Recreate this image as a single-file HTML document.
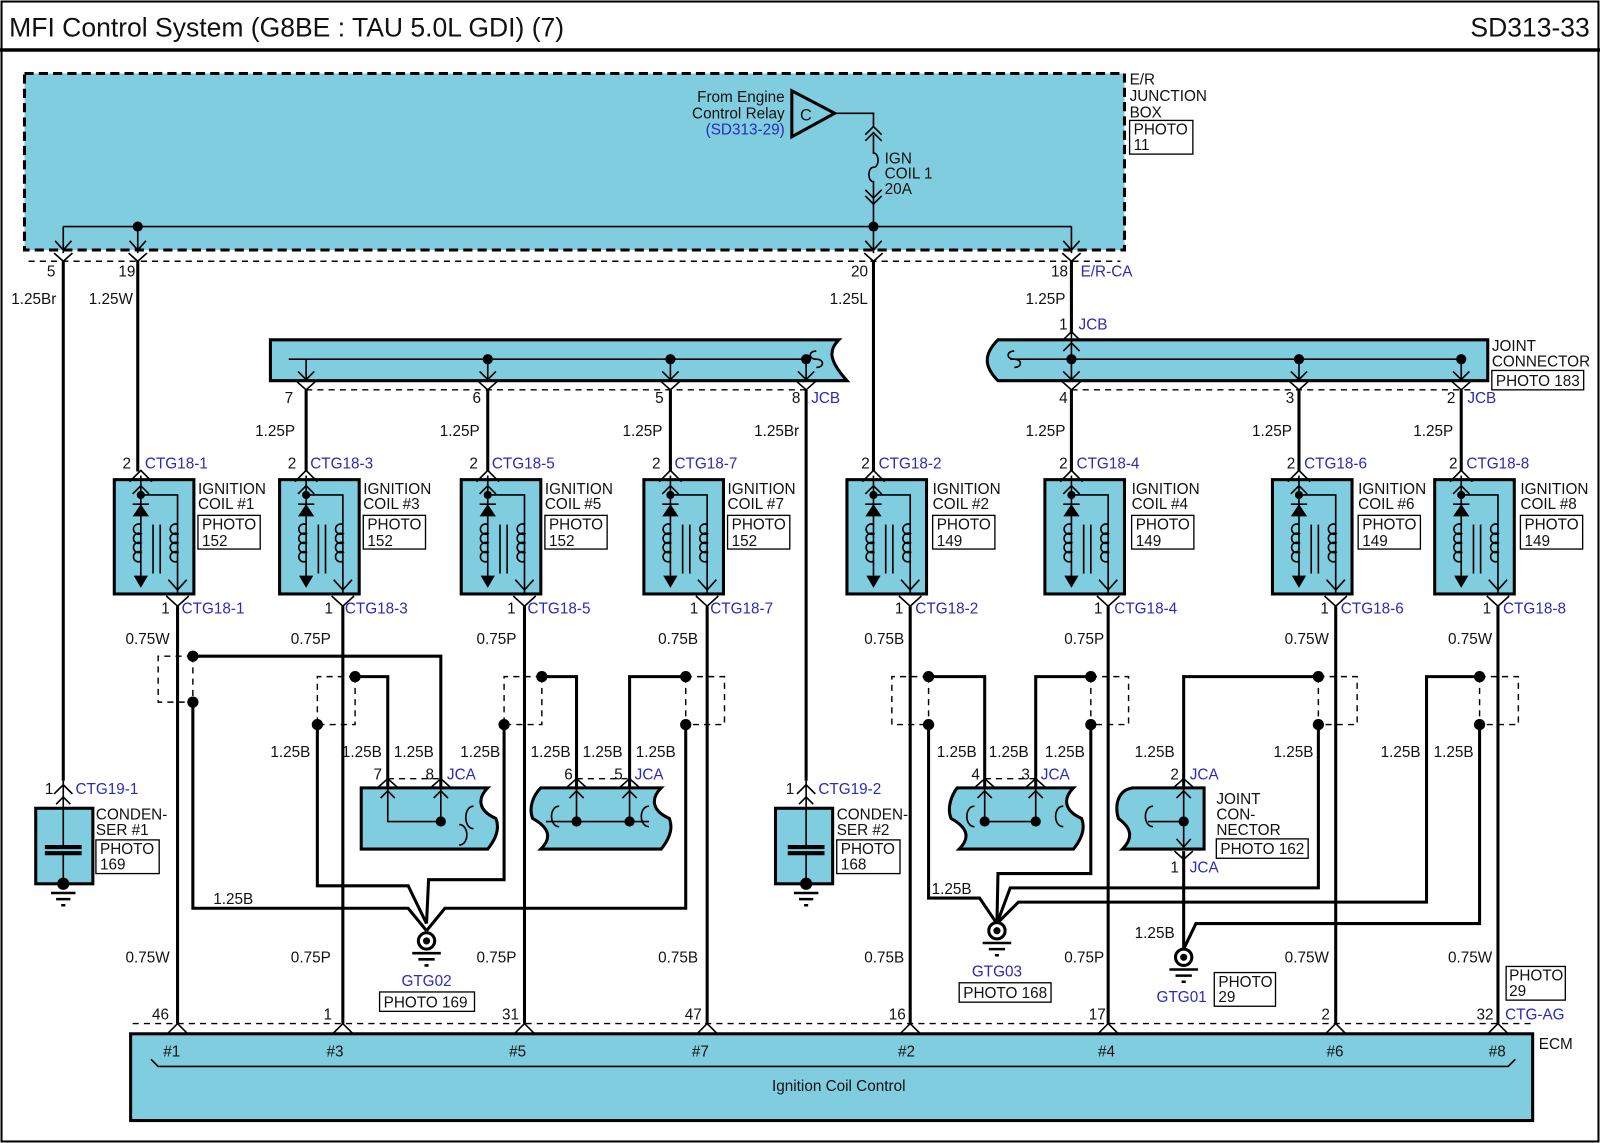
<!DOCTYPE html>
<html><head><meta charset="utf-8">
<style>
html,body{margin:0;padding:0;background:#fff;}
svg{display:block;}
text{font-family:"Liberation Sans",Arial,sans-serif;font-size:15px;fill:#111;}
.b{fill:#2a2ab8;}
.w{stroke:#000;stroke-width:3;fill:none;}
.t{stroke:#000;stroke-width:1.6;fill:none;}
.d{stroke:#000;stroke-width:1.4;fill:none;stroke-dasharray:6,5;}
.box{fill:#80cde0;stroke:#000;stroke-width:3;}
.pb{fill:#fff;stroke:#000;stroke-width:1.3;}
</style></head><body>
<svg width="1600" height="1143" viewBox="0 0 1568 1120" preserveAspectRatio="none" xmlns="http://www.w3.org/2000/svg">
<defs>
<g id="coil">
 <rect x="0" y="0" width="78" height="112" class="box"/>
 <line x1="26" y1="-4" x2="26" y2="98" class="t"/>
 <polyline points="15,2 26,-9 37,2" class="t"/>
 <polyline points="18,14 26,6 34,14" class="t"/>
 <circle cx="26" cy="15" r="4"/>
 <path d="M26,15 H62 V112" class="t"/>
 <polygon points="18,36 34,36 26,24"/>
 <line x1="18" y1="24" x2="34" y2="24" class="t"/>
 <path d="M26,44 a5,5 0 1 0 0,9 a5,5 0 1 0 0,9 a5,5 0 1 0 0,9 a5,5 0 1 0 0,9" class="t" fill="#80cde0"/>
 <line x1="38" y1="44" x2="38" y2="92" class="t"/>
 <line x1="45" y1="44" x2="45" y2="92" class="t"/>
 <path d="M62,44 a5,5 0 1 0 0,9 a5,5 0 1 0 0,9 a5,5 0 1 0 0,9 a5,5 0 1 0 0,9" class="t" fill="#80cde0"/>
 <polygon points="19,94 33,94 26,106"/>
 <polyline points="53,98 62,108 71,98" class="t"/>
 <polyline points="51,114 62,124 73,114" class="t"/>
</g>
</defs>

<!-- frame -->
<rect x="1.5" y="1.5" width="1565" height="1117" fill="none" stroke="#000" stroke-width="2"/>
<line x1="0" y1="49" x2="1568" y2="49" stroke="#000" stroke-width="3.5"/>
<text x="9" y="36" style="font-size:26px">MFI Control System (G8BE : TAU 5.0L GDI) (7)</text>
<text x="1558" y="36" text-anchor="end" style="font-size:26px">SD313-33</text>

<!-- E/R junction box -->
<rect x="24" y="72" width="1078" height="173" fill="#80cde0" stroke="#000" stroke-width="3" stroke-dasharray="9,5"/>
<text x="1107" y="83">E/R</text><text x="1107" y="99">JUNCTION</text><text x="1107" y="115">BOX</text>
<rect x="1107" y="118" width="62" height="33" class="pb"/>
<text x="1111" y="132">PHOTO</text><text x="1111" y="147">11</text>
<polygon points="776,89 776,134 818,111" fill="none" stroke="#000" stroke-width="3"/>
<text x="784" y="118" style="font-size:16px">C</text>
<text x="769" y="100" text-anchor="end">From Engine</text>
<text x="769" y="116" text-anchor="end">Control Relay</text>
<text x="769" y="132" text-anchor="end" class="b">(SD313-29)</text>
<path d="M818,111 H856 V125" class="t"/>
<polyline points="848,132 856,124 864,132" class="t"/><polyline points="848,138 856,130 864,138" class="t"/>
<path d="M856,132 V150 c6,0 6,14 0,14 c-6,0 -6,14 0,14 V198" class="t"/>
<polyline points="848,186 856,194 864,186" class="t"/><polyline points="848,192 856,200 864,192" class="t"/>
<text x="867" y="160">IGN</text><text x="867" y="175">COIL 1</text><text x="867" y="190">20A</text>
<path d="M62,222 H1050 M62,222 V248 M135,222 V248 M856,198 V248 M1050,222 V248" class="t"/>
<circle cx="135" cy="222" r="5"/><circle cx="856" cy="222" r="5"/>
<g class="t">
<polyline points="54,236 62,245 70,236"/><polyline points="127,236 135,245 143,236"/>
<polyline points="848,236 856,245 864,236"/><polyline points="1042,236 1050,245 1058,236"/>
<polyline points="53,248 62,256 71,248"/><polyline points="126,248 135,256 144,248"/>
<polyline points="847,248 856,256 865,248"/><polyline points="1041,248 1050,256 1059,248"/>
</g>
<line x1="28" y1="256" x2="1098" y2="256" class="d"/>
<text x="46" y="271">5</text><text x="116" y="271">19</text><text x="834" y="271">20</text><text x="1030" y="271">18</text>
<text x="1059" y="271" class="b">E/R-CA</text>
<text x="11" y="298">1.25Br</text><text x="87" y="298">1.25W</text><text x="813" y="298">1.25L</text><text x="1005" y="298">1.25P</text>

<!-- main vertical wires -->
<g class="w">
<line x1="62" y1="256" x2="62" y2="765"/>
<path d="M135,256 V462"/>
<line x1="856" y1="256" x2="856" y2="462"/>
<line x1="1050" y1="256" x2="1050" y2="326"/>
</g>

<!-- Left JCB -->
<path d="M265,333 H822 c-10,10 -10,20 8,40 H265 Z" class="box"/>
<path d="M283,352 H790" class="t"/>
<path d="M800,344 c-8,0 -8,8 0,8 c8,0 8,8 0,8" class="t"/>
<circle cx="478" cy="352" r="5"/><circle cx="657" cy="352" r="5"/><circle cx="790" cy="352" r="5"/>
<g class="t">
<path d="M300,352 V372 M478,352 V372 M657,352 V372 M790,352 V372"/>
<polyline points="292,364 300,372 308,364"/><polyline points="470,364 478,372 486,364"/><polyline points="649,364 657,372 665,364"/><polyline points="782,364 790,372 798,364"/>
<polyline points="291,374 300,382 309,374"/><polyline points="469,374 478,382 487,374"/><polyline points="648,374 657,382 666,374"/><polyline points="781,374 790,382 799,374"/>
</g>
<line x1="300" y1="382" x2="790" y2="382" class="d"/>
<text x="279" y="395">7</text><text x="463" y="395">6</text><text x="642" y="395">5</text><text x="776" y="395">8</text><text x="795" y="395" class="b">JCB</text>

<!-- Right JCB -->
<path d="M978,333 H1458 V373 H978 c-14,-14 -14,-26 0,-40 Z" class="box"/>
<path d="M990,352 H1432" class="t"/>
<path d="M994,344 c-8,0 -8,8 0,8 c8,0 8,8 0,8" class="t"/>
<circle cx="1050" cy="352" r="5"/><circle cx="1273" cy="352" r="5"/><circle cx="1432" cy="352" r="5"/>
<g class="t">
<path d="M1050,326 V372 M1273,352 V372 M1432,352 V372"/>
<polyline points="1041,334 1050,325 1059,334"/><polyline points="1042,344 1050,336 1058,344"/>
<polyline points="1042,364 1050,372 1058,364"/><polyline points="1265,364 1273,372 1281,364"/><polyline points="1424,364 1432,372 1440,364"/>
<polyline points="1041,374 1050,382 1059,374"/><polyline points="1264,374 1273,382 1282,374"/><polyline points="1423,374 1432,382 1441,374"/>
</g>
<line x1="1050" y1="382" x2="1442" y2="382" class="d"/>
<text x="1038" y="323">1</text><text x="1057" y="323" class="b">JCB</text>
<text x="1462" y="344">JOINT</text><text x="1462" y="359">CONNECTOR</text>
<rect x="1462" y="363" width="90" height="19" class="pb"/><text x="1466" y="378">PHOTO 183</text>
<text x="1038" y="395">4</text><text x="1260" y="395">3</text><text x="1418" y="395">2</text><text x="1438" y="395" class="b">JCB</text>

<g class="w">
<path d="M300,382 V462 M478,382 V462 M657,382 V462 M790,382 V765"/>
<path d="M1050,382 V462 M1273,382 V462 M1432,382 V462"/>
</g>
<text x="250" y="427">1.25P</text><text x="431" y="427">1.25P</text><text x="610" y="427">1.25P</text><text x="739" y="427">1.25Br</text>
<text x="1005" y="427">1.25P</text><text x="1227" y="427">1.25P</text><text x="1385" y="427">1.25P</text>

<!-- Coils -->
<use href="#coil" x="112" y="470"/>
<use href="#coil" x="274" y="470"/>
<use href="#coil" x="452" y="470"/>
<use href="#coil" x="631" y="470"/>
<use href="#coil" x="830" y="470"/>
<use href="#coil" x="1024" y="470"/>
<use href="#coil" x="1247" y="470"/>
<use href="#coil" x="1406" y="470"/>

<g>
<text x="120" y="459">2</text><text x="142" y="459" class="b">CTG18-1</text>
<text x="282" y="459">2</text><text x="304" y="459" class="b">CTG18-3</text>
<text x="460" y="459">2</text><text x="482" y="459" class="b">CTG18-5</text>
<text x="639" y="459">2</text><text x="661" y="459" class="b">CTG18-7</text>
<text x="844" y="459">2</text><text x="861" y="459" class="b">CTG18-2</text>
<text x="1038" y="459">2</text><text x="1055" y="459" class="b">CTG18-4</text>
<text x="1261" y="459">2</text><text x="1278" y="459" class="b">CTG18-6</text>
<text x="1420" y="459">2</text><text x="1437" y="459" class="b">CTG18-8</text>
</g>
<g>
<text x="194" y="484">IGNITION</text><text x="194" y="499">COIL #1</text><rect x="194" y="505" width="61" height="33" class="pb"/><text x="198" y="519">PHOTO</text><text x="198" y="535">152</text>
<text x="356" y="484">IGNITION</text><text x="356" y="499">COIL #3</text><rect x="356" y="505" width="61" height="33" class="pb"/><text x="360" y="519">PHOTO</text><text x="360" y="535">152</text>
<text x="534" y="484">IGNITION</text><text x="534" y="499">COIL #5</text><rect x="534" y="505" width="61" height="33" class="pb"/><text x="538" y="519">PHOTO</text><text x="538" y="535">152</text>
<text x="713" y="484">IGNITION</text><text x="713" y="499">COIL #7</text><rect x="713" y="505" width="61" height="33" class="pb"/><text x="717" y="519">PHOTO</text><text x="717" y="535">152</text>
<text x="914" y="484">IGNITION</text><text x="914" y="499">COIL #2</text><rect x="914" y="505" width="61" height="33" class="pb"/><text x="918" y="519">PHOTO</text><text x="918" y="535">149</text>
<text x="1109" y="484">IGNITION</text><text x="1109" y="499">COIL #4</text><rect x="1109" y="505" width="61" height="33" class="pb"/><text x="1113" y="519">PHOTO</text><text x="1113" y="535">149</text>
<text x="1331" y="484">IGNITION</text><text x="1331" y="499">COIL #6</text><rect x="1331" y="505" width="61" height="33" class="pb"/><text x="1335" y="519">PHOTO</text><text x="1335" y="535">149</text>
<text x="1490" y="484">IGNITION</text><text x="1490" y="499">COIL #8</text><rect x="1490" y="505" width="61" height="33" class="pb"/><text x="1494" y="519">PHOTO</text><text x="1494" y="535">149</text>
</g>
<g>
<text x="158" y="601">1</text><text x="178" y="601" class="b">CTG18-1</text>
<text x="318" y="601">1</text><text x="338" y="601" class="b">CTG18-3</text>
<text x="497" y="601">1</text><text x="517" y="601" class="b">CTG18-5</text>
<text x="676" y="601">1</text><text x="696" y="601" class="b">CTG18-7</text>
<text x="877" y="601">1</text><text x="897" y="601" class="b">CTG18-2</text>
<text x="1072" y="601">1</text><text x="1092" y="601" class="b">CTG18-4</text>
<text x="1294" y="601">1</text><text x="1314" y="601" class="b">CTG18-6</text>
<text x="1453" y="601">1</text><text x="1473" y="601" class="b">CTG18-8</text>
</g>
<g class="w">
<path d="M174,594 V1003 M336,594 V1003 M514,594 V1003 M693,594 V1003 M892,594 V1003 M1086,594 V1003 M1309,594 V1003 M1468,594 V1003"/>
</g>
<text x="123" y="631">0.75W</text><text x="285" y="631">0.75P</text><text x="467" y="631">0.75P</text><text x="645" y="631">0.75B</text>
<text x="847" y="631">0.75B</text><text x="1043" y="631">0.75P</text><text x="1259" y="631">0.75W</text><text x="1419" y="631">0.75W</text>

<!-- shields -->
<path d="M189,643 H155 V688 H189 M189,643 V688" class="d"/>
<path d="M348,663 H311 V710 M348,663 V710 H311" class="d"/>
<path d="M531,663 H494 V710 M531,663 V710 H494" class="d"/>
<path d="M672,663 H710 V710 H672 M672,663 V710" class="d"/>
<path d="M910,663 H874 V710 H910 M910,663 V710" class="d"/>
<path d="M1069,663 H1106 V710 H1069 M1069,663 V710" class="d"/>
<path d="M1292,663 H1330 V710 H1292 M1292,663 V710" class="d"/>
<path d="M1450,663 H1488 V710 H1450 M1450,663 V710" class="d"/>
<g>
<circle cx="189" cy="643" r="5.5"/><circle cx="189" cy="688" r="5.5"/>
<circle cx="348" cy="663" r="5.5"/><circle cx="311" cy="710" r="5.5"/>
<circle cx="531" cy="663" r="5.5"/><circle cx="494" cy="710" r="5.5"/>
<circle cx="672" cy="663" r="5.5"/><circle cx="672" cy="710" r="5.5"/>
<circle cx="910" cy="663" r="5.5"/><circle cx="910" cy="710" r="5.5"/>
<circle cx="1069" cy="663" r="5.5"/><circle cx="1069" cy="710" r="5.5"/>
<circle cx="1292" cy="663" r="5.5"/><circle cx="1292" cy="710" r="5.5"/>
<circle cx="1450" cy="663" r="5.5"/><circle cx="1450" cy="710" r="5.5"/>
</g>
<g class="w">
<path d="M189,643 H432 V772"/>
<path d="M348,663 H380 V772"/>
<path d="M531,663 H565 V772"/>
<path d="M672,663 H617 V772"/>
<path d="M189,688 V890 H400 L418,912"/>
<path d="M311,710 V868 H400 L418,905"/>
<path d="M494,710 V862 H420 L418,905"/>
<path d="M672,710 V890 H436 L418,912"/>
<path d="M910,663 H965 V772"/>
<path d="M1069,663 H1015 V772"/>
<path d="M1292,663 H1160 V772"/>
<path d="M910,710 V880 H960 L977,905"/>
<path d="M1069,710 V856 H978 L977,905"/>
<path d="M1292,710 V870 H990 L977,905"/>
<path d="M1450,663 H1398 V884 H998 L977,905"/>
<path d="M1450,710 V905 H1172 L1160,930"/>
<path d="M1160,834 V930"/>
</g>
<text x="265" y="742">1.25B</text><text x="335" y="742">1.25B</text><text x="386" y="742">1.25B</text><text x="451" y="742">1.25B</text>
<text x="520" y="742">1.25B</text><text x="571" y="742">1.25B</text><text x="623" y="742">1.25B</text>
<text x="918" y="742">1.25B</text><text x="969" y="742">1.25B</text><text x="1024" y="742">1.25B</text>
<text x="1112" y="742">1.25B</text><text x="1248" y="742">1.25B</text><text x="1353" y="742">1.25B</text><text x="1405" y="742">1.25B</text>
<text x="209" y="886">1.25B</text><text x="913" y="876">1.25B</text><text x="1112" y="919">1.25B</text>

<!-- JCA connectors -->
<path d="M354,772 H478 c-10,10 -10,22 8,30 c4,10 0,20 -8,30 H354 Z" class="box"/>
<path d="M380,772 V805 H432 V772" class="t"/><circle cx="432" cy="805" r="5"/>
<path d="M464,790 c-10,0 -10,22 0,22" class="t"/><path d="M450,808 c10,0 10,20 0,20" class="t"/>
<g class="t"><polyline points="371,771 380,763 389,771"/><polyline points="423,771 432,763 441,771"/><polyline points="373,782 380,775 387,782"/><polyline points="425,782 432,775 439,782"/></g>
<line x1="380" y1="763" x2="432" y2="763" class="d"/>
<text x="366" y="764">7</text><text x="417" y="764">8</text><text x="438" y="764" class="b">JCA</text>

<path d="M530,772 H648 c-10,10 -10,22 8,30 c4,10 0,20 -8,30 H530 c10,-10 10,-20 -8,-30 c-4,-10 0,-22 8,-30 Z" class="box"/>
<path d="M535,805 H636" class="t"/><path d="M565,772 V805 M617,772 V805" class="t"/>
<circle cx="565" cy="805" r="5"/><circle cx="617" cy="805" r="5"/>
<path d="M548,790 c-10,0 -10,20 0,20 M636,790 c-10,0 -10,20 0,20" class="t"/>
<g class="t"><polyline points="556,771 565,763 574,771"/><polyline points="608,771 617,763 626,771"/><polyline points="558,782 565,775 572,782"/><polyline points="610,782 617,775 624,782"/></g>
<line x1="565" y1="763" x2="617" y2="763" class="d"/>
<text x="553" y="764">6</text><text x="602" y="764">5</text><text x="622" y="764" class="b">JCA</text>

<path d="M938,772 H1052 c-10,10 -10,22 8,30 c4,10 0,20 -8,30 H940 c10,-10 10,-20 -8,-30 c-4,-10 0,-22 6,-30 Z" class="box"/>
<path d="M965,772 V805 H1015 V772" class="t"/><circle cx="965" cy="805" r="5"/><circle cx="1015" cy="805" r="5"/>
<path d="M955,790 c-10,0 -10,20 0,20 M1042,790 c-10,0 -10,20 0,20" class="t"/>
<g class="t"><polyline points="956,771 965,763 974,771"/><polyline points="1006,771 1015,763 1024,771"/><polyline points="958,782 965,775 972,782"/><polyline points="1008,782 1015,775 1022,782"/></g>
<line x1="965" y1="763" x2="1015" y2="763" class="d"/>
<text x="952" y="764">4</text><text x="1001" y="764">3</text><text x="1020" y="764" class="b">JCA</text>

<path d="M1110,772 H1180 V832 H1100 c10,-10 10,-20 -4,-30 c-4,-14 0,-28 14,-30 Z" class="box"/>
<path d="M1160,772 V832 M1125,805 H1160" class="t"/><circle cx="1160" cy="805" r="5"/>
<path d="M1130,790 c-10,0 -10,20 0,20" class="t"/>
<g class="t"><polyline points="1151,771 1160,763 1169,771"/><polyline points="1153,782 1160,775 1167,782"/><polyline points="1153,822 1160,830 1167,822"/><polyline points="1151,834 1160,842 1169,834"/></g>
<text x="1147" y="764">2</text><text x="1166" y="764" class="b">JCA</text>
<text x="1147" y="855">1</text><text x="1166" y="855" class="b">JCA</text>
<text x="1192" y="788">JOINT</text><text x="1192" y="803">CON-</text><text x="1192" y="818">NECTOR</text>
<rect x="1192" y="822" width="90" height="19" class="pb"/><text x="1196" y="837">PHOTO 162</text>

<!-- grounds -->
<g>
<circle cx="418" cy="922" r="8" fill="#fff" stroke="#000" stroke-width="3"/><circle cx="418" cy="922" r="3.5"/>
<path d="M404,934 H432 M410,940 H426 M416,946 H420" stroke="#000" stroke-width="2.5"/>
<text x="418" y="966" text-anchor="middle" class="b">GTG02</text>
<rect x="372" y="972" width="93" height="19" class="pb"/><text x="376" y="987">PHOTO 169</text>

<circle cx="977" cy="912" r="8" fill="#fff" stroke="#000" stroke-width="3"/><circle cx="977" cy="912" r="3.5"/>
<path d="M963,924 H991 M969,930 H985 M975,936 H979" stroke="#000" stroke-width="2.5"/>
<text x="977" y="957" text-anchor="middle" class="b">GTG03</text>
<rect x="940" y="963" width="90" height="19" class="pb"/><text x="944" y="978">PHOTO 168</text>

<circle cx="1160" cy="938" r="8" fill="#fff" stroke="#000" stroke-width="3"/><circle cx="1160" cy="938" r="3.5"/>
<path d="M1146,950 H1174 M1152,956 H1168 M1158,962 H1162" stroke="#000" stroke-width="2.5"/>
<text x="1158" y="982" text-anchor="middle" class="b">GTG01</text>
<rect x="1190" y="953" width="60" height="33" class="pb"/><text x="1194" y="967">PHOTO</text><text x="1194" y="982">29</text>
</g>

<!-- condensers -->
<rect x="35" y="792" width="56" height="74" class="box"/>
<path d="M62,765 V830 M62,836 V866" class="t"/>
<path d="M44,830 H80 M44,836 H80" stroke="#000" stroke-width="4"/>
<circle cx="62" cy="866" r="6"/>
<path d="M50,875 H74 M55,881 H69 M60,887 H64" stroke="#000" stroke-width="2.5"/>
<g class="t"><polyline points="53,778 62,769 71,778"/><polyline points="55,788 62,781 69,788"/></g>
<text x="44" y="778">1</text><text x="74" y="778" class="b">CTG19-1</text>
<text x="94" y="803">CONDEN-</text><text x="94" y="818">SER #1</text>
<rect x="94" y="823" width="62" height="33" class="pb"/><text x="98" y="837">PHOTO</text><text x="98" y="852">169</text>

<rect x="760" y="792" width="56" height="74" class="box"/>
<path d="M790,765 V830 M790,836 V866" class="t"/>
<path d="M772,830 H808 M772,836 H808" stroke="#000" stroke-width="4"/>
<circle cx="790" cy="866" r="6"/>
<path d="M778,875 H802 M783,881 H797 M788,887 H792" stroke="#000" stroke-width="2.5"/>
<g class="t"><polyline points="781,778 790,769 799,778"/><polyline points="783,788 790,781 797,788"/></g>
<text x="770" y="778">1</text><text x="802" y="778" class="b">CTG19-2</text>
<text x="820" y="803">CONDEN-</text><text x="820" y="818">SER #2</text>
<rect x="820" y="823" width="62" height="33" class="pb"/><text x="824" y="837">PHOTO</text><text x="824" y="852">168</text>

<!-- bottom labels -->
<text x="123" y="943">0.75W</text><text x="285" y="943">0.75P</text><text x="467" y="943">0.75P</text><text x="645" y="943">0.75B</text>
<text x="847" y="943">0.75B</text><text x="1043" y="943">0.75P</text><text x="1259" y="943">0.75W</text><text x="1419" y="943">0.75W</text>
<rect x="1476" y="947" width="58" height="33" class="pb"/><text x="1479" y="961">PHOTO</text><text x="1479" y="976">29</text>

<!-- ECM -->
<line x1="130" y1="1003" x2="1500" y2="1003" class="d"/>
<text x="149" y="999">46</text><text x="317" y="999">1</text><text x="492" y="999">31</text><text x="671" y="999">47</text>
<text x="871" y="999">16</text><text x="1067" y="999">17</text><text x="1295" y="999">2</text><text x="1447" y="999">32</text>
<text x="1475" y="999" class="b">CTG-AG</text>
<rect x="128" y="1013" width="1374" height="85" class="box"/>
<g class="t">
<polyline points="164,1013 174,1003 184,1013"/><polyline points="326,1013 336,1003 346,1013"/><polyline points="504,1013 514,1003 524,1013"/><polyline points="683,1013 693,1003 703,1013"/>
<polyline points="882,1013 892,1003 902,1013"/><polyline points="1076,1013 1086,1003 1096,1013"/><polyline points="1299,1013 1309,1003 1319,1013"/><polyline points="1458,1013 1468,1003 1478,1013"/>
</g>
<path d="M148,1038 L155,1045 H1478 L1485,1038" class="t" stroke-width="1.2"/>
<text x="160" y="1035">#1</text><text x="320" y="1035">#3</text><text x="499" y="1035">#5</text><text x="678" y="1035">#7</text>
<text x="880" y="1035">#2</text><text x="1076" y="1035">#4</text><text x="1300" y="1035">#6</text><text x="1459" y="1035">#8</text>
<text x="822" y="1069" text-anchor="middle">Ignition Coil Control</text>
<text x="1508" y="1028">ECM</text>
</svg>
</body></html>
